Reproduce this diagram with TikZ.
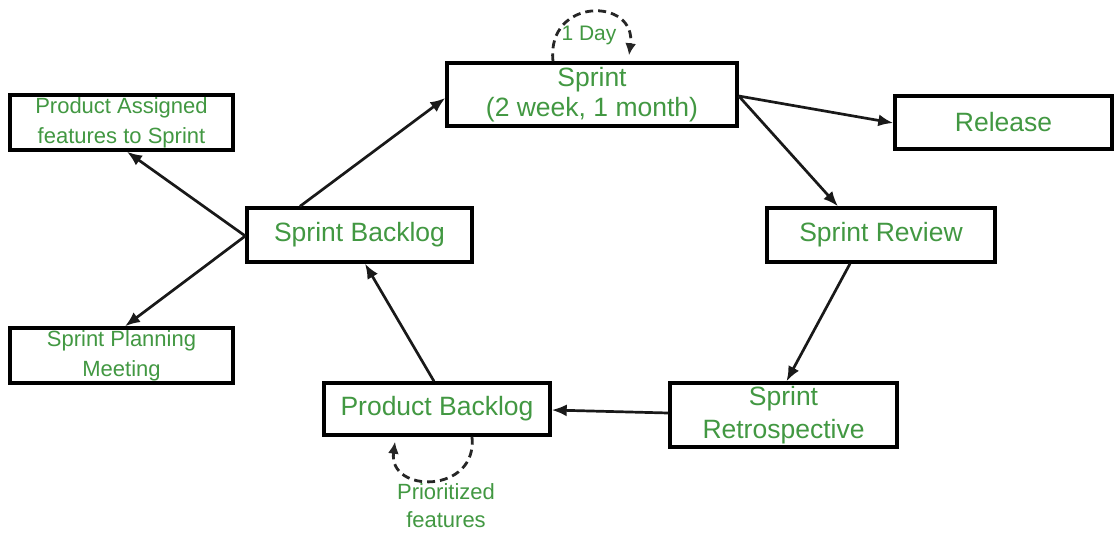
\documentclass[tikz,border=0pt]{standalone}
\usepackage{fontspec}
\setmainfont{Liberation Sans}
\usetikzlibrary{arrows.meta,calc}
\definecolor{txtgreen}{RGB}{66,152,66}
\tikzset{
  box/.style={draw=black, line width=3.4pt, rectangle, inner sep=0pt, align=center,
    text=txtgreen, font=\fontsize{26.5}{30}\selectfont},
  smallbox/.style={box, font=\fontsize{22}{30}\selectfont},
  lbl/.style={text=txtgreen, align=center, inner sep=0pt, font=\fontsize{22}{28}\selectfont},
  conn/.style={draw=black!90, line width=2.7pt, -{Latex[length=15pt,width=12pt]}},
  loopline/.style={draw=black!85, line width=2.8pt, dash pattern=on 8pt off 5pt,
    -{Latex[length=12pt,width=11pt]}}
}
\begin{document}
\begin{tikzpicture}[x=1pt,y=-1pt]
\fill[white] (0,0) rectangle (1114,533);
\useasboundingbox (0,0) rectangle (1114,533);

\node[box, minimum width=290pt, minimum height=63pt] (sprint) at (592,94.5) {Sprint\\(2 week, 1 month)};
\node[box, minimum width=217pt, minimum height=53pt] (release) at (1003.5,122.5) {Release};
\node[smallbox, minimum width=223pt, minimum height=55pt] (pa) at (121.5,122.5) {Product Assigned\\features to Sprint};
\node[smallbox, minimum width=223pt, minimum height=55pt] (spm) at (121.5,355.5) {Sprint Planning\\Meeting};
\node[box, minimum width=225pt, minimum height=54pt] (sb) at (359.5,235) {Sprint Backlog};
\node[box, minimum width=228pt, minimum height=54pt] (sr) at (881,235) {Sprint Review};
\node[box, font=\fontsize{26.5}{33}\selectfont, minimum width=227pt, minimum height=64pt] (retro) at (783.5,415) {Sprint\\Retrospective};
\node[box, minimum width=226pt, minimum height=52pt] (pb) at (437,409) {Product Backlog};

\node[lbl, font=\fontsize{21}{26}\selectfont] (day) at (589,35) {1 Day};
\node[lbl] (prio) at (446,506) {Prioritized\\features};

% connectors
\draw[conn] ($(sb.north)+(-59.5,0)$) -- ($(sprint.west)+(0,3.5)$);
\draw[conn] ($(sprint.east)+(0,1.5)$) -- ($(release.west)+(0,0.5)$);
\draw[conn] ($(sprint.east)+(0,1.5)$) -- ($(sr.north)+(-43,0)$);
\draw[conn] ($(sr.south)+(-31,0)$) -- ($(retro.north)+(3,0)$);
\draw[conn] ($(retro.west)+(0,-2)$) -- ($(pb.east)+(0,1)$);
\draw[conn] ($(pb.north)+(-3,0)$) -- ($(sb.south)+(5.5,0)$);
\draw[conn] ($(sb.west)+(0,1)$) -- ($(pa.south)+(5.5,0)$);
\draw[conn] ($(sb.west)+(0,1)$) -- ($(spm.north)+(3.5,0)$);

% dashed loops
\draw[loopline] ($(sprint.north)+(-39,0)$) .. controls (546,-3) and (637,-3) .. ($(sprint.north)+(37,-6)$);
\draw[loopline] ($(pb.south)+(35,0)$) .. controls (478,494) and (388,494) .. ($(pb.south)+(-42,5)$);
\end{tikzpicture}
\end{document}
